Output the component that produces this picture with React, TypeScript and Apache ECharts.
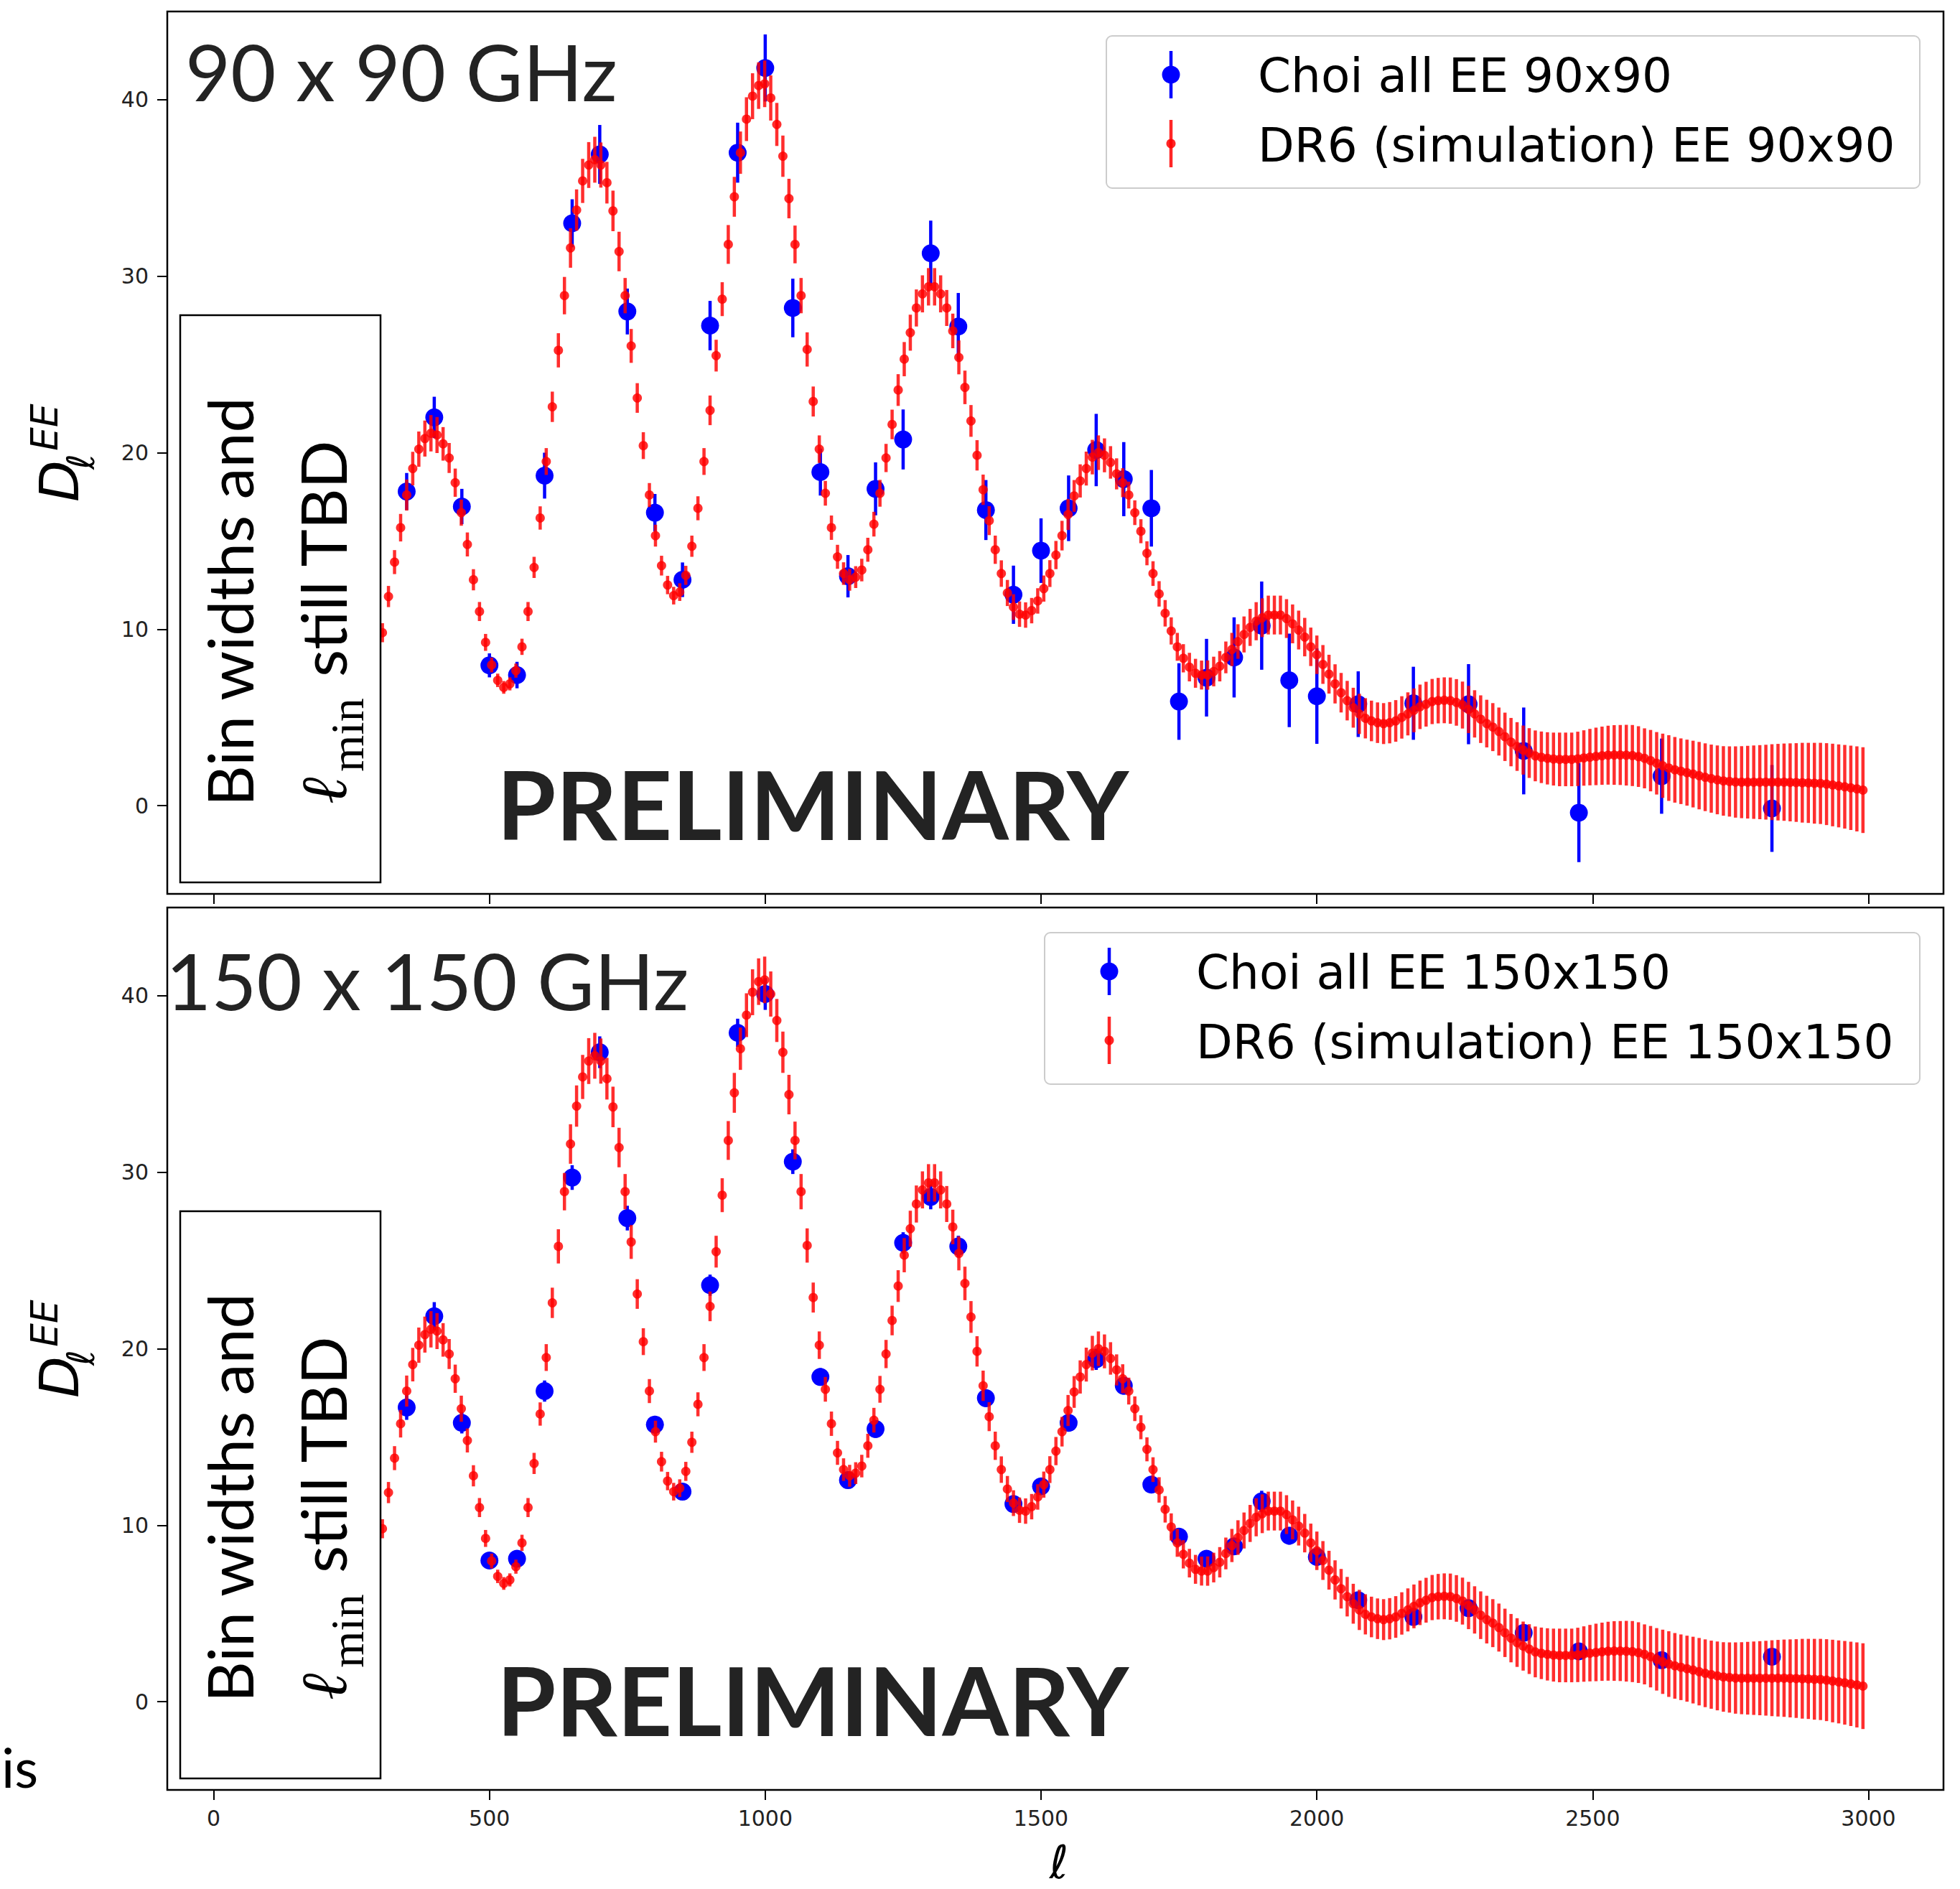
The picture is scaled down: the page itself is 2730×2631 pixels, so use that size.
import React, { useEffect, useRef } from "react";
import * as echarts from "echarts";

const W = 2730;
const H = 2631;

// ---- simulation (DR6) bins: multipole centres, D_ell^EE, 1-sigma ----
const RED_L = [
  306, 317, 328, 339, 350, 361, 372, 383, 394, 405,
  416, 427, 438, 449, 460, 471, 482, 493, 504, 515,
  526, 537, 548, 559, 570, 581, 592, 603, 614, 625,
  636, 647, 658, 669, 680, 691, 702, 713, 724, 735,
  746, 757, 768, 779, 790, 801, 812, 823, 834, 845,
  856, 867, 878, 889, 900, 911, 922, 933, 944, 955,
  966, 977, 988, 999, 1010, 1021, 1032, 1043, 1054, 1065,
  1076, 1087, 1098, 1109, 1120, 1131, 1142, 1153, 1164, 1175,
  1186, 1197, 1208, 1219, 1230, 1241, 1252, 1263, 1274, 1285,
  1296, 1307, 1318, 1329, 1340, 1351, 1362, 1373, 1384, 1395,
  1406, 1417, 1428, 1439, 1450, 1461, 1472, 1483, 1494, 1505,
  1516, 1527, 1538, 1549, 1560, 1571, 1582, 1593, 1604, 1615,
  1626, 1637, 1648, 1659, 1670, 1681, 1692, 1703, 1714, 1725,
  1736, 1747, 1758, 1769, 1780, 1791, 1802, 1813, 1824, 1835,
  1846, 1857, 1868, 1879, 1890, 1901, 1912, 1923, 1934, 1945,
  1956, 1967, 1978, 1989, 2000, 2011, 2022, 2033, 2044, 2055,
  2066, 2077, 2088, 2099, 2110, 2121, 2132, 2143, 2154, 2165,
  2176, 2187, 2198, 2209, 2220, 2231, 2242, 2253, 2264, 2275,
  2286, 2297, 2308, 2319, 2330, 2341, 2352, 2363, 2374, 2385,
  2396, 2407, 2418, 2429, 2440, 2451, 2462, 2473, 2484, 2495,
  2506, 2517, 2528, 2539, 2550, 2561, 2572, 2583, 2594, 2605,
  2616, 2627, 2638, 2649, 2660, 2671, 2682, 2693, 2704, 2715,
  2726, 2737, 2748, 2759, 2770, 2781, 2792, 2803, 2814, 2825,
  2836, 2847, 2858, 2869, 2880, 2891, 2902, 2913, 2924, 2935,
  2946, 2957, 2968, 2979, 2990,
];
const RED_D = [
  9.8, 11.85, 13.8, 15.75, 17.6, 19.1, 20.2, 20.8, 21.1, 21.0,
  20.5, 19.7, 18.3, 16.6, 14.8, 12.8, 11.0, 9.25, 7.97, 7.1,
  6.7, 6.9, 7.65, 9.0, 11.0, 13.5, 16.3, 19.5, 22.6, 25.8,
  28.9, 31.6, 33.75, 35.4, 36.3, 36.6, 36.3, 35.3, 33.7, 31.4,
  28.9, 26.05, 23.1, 20.4, 17.6, 15.3, 13.6, 12.5, 11.9, 12.1,
  13.05, 14.7, 16.85, 19.5, 22.4, 25.5, 28.7, 31.8, 34.5, 37.0,
  38.9, 40.2, 40.8, 40.9, 40.1, 38.6, 36.8, 34.4, 31.8, 28.9,
  25.85, 22.9, 20.2, 17.7, 15.75, 14.1, 13.15, 12.8, 12.95, 13.35,
  14.5, 15.95, 17.7, 19.7, 21.6, 23.55, 25.3, 26.8, 28.2, 29.0,
  29.4, 29.4, 29.0, 28.2, 26.9, 25.4, 23.7, 21.8, 19.85, 17.9,
  16.15, 14.5, 13.15, 12.05, 11.25, 10.85, 10.8, 11.05, 11.6, 12.3,
  13.15, 14.2, 15.3, 16.5, 17.55, 18.4, 19.1, 19.75, 20.0, 19.85,
  19.45, 18.8, 18.3, 17.6, 16.6, 15.55, 14.3, 13.15, 12.0, 10.9,
  9.9, 9.0, 8.35, 7.85, 7.5, 7.4, 7.4, 7.6, 7.9, 8.4,
  8.85, 9.3, 9.7, 10.1, 10.45, 10.65, 10.8, 10.8, 10.8, 10.6,
  10.3, 9.95, 9.55, 9.0, 8.55, 8.0, 7.45, 6.9, 6.4, 5.95,
  5.55, 5.2, 4.95, 4.8, 4.7, 4.65, 4.7, 4.8, 5.0, 5.2,
  5.4, 5.6, 5.75, 5.9, 5.95, 5.97, 5.95, 5.85, 5.7, 5.45,
  5.2, 4.9, 4.65, 4.45, 4.2, 3.9, 3.6, 3.35, 3.15, 2.98,
  2.82, 2.74, 2.68, 2.64, 2.62, 2.62, 2.62, 2.65, 2.7, 2.75,
  2.79, 2.83, 2.86, 2.87, 2.87, 2.86, 2.84, 2.78, 2.68, 2.55,
  2.4, 2.26, 2.13, 2.03, 1.95, 1.87, 1.79, 1.7, 1.61, 1.53,
  1.46, 1.4, 1.37, 1.34, 1.33, 1.33, 1.33, 1.33, 1.33, 1.33,
  1.33, 1.33, 1.32, 1.31, 1.3, 1.29, 1.27, 1.26, 1.22, 1.17,
  1.12, 1.07, 1.01, 0.95, 0.88,
];
const RED_E = [
  0.54, 0.6, 0.68, 0.78, 0.88, 0.95, 1.0, 1.02, 1.03, 1.02,
  0.95, 0.85, 0.8, 0.74, 0.68, 0.6, 0.54, 0.48, 0.42, 0.38,
  0.36, 0.37, 0.4, 0.46, 0.54, 0.6, 0.66, 0.76, 0.86, 0.97,
  1.06, 1.12, 1.17, 1.25, 1.3, 1.3, 1.28, 1.18, 1.15, 1.12,
  1.0, 0.96, 0.84, 0.76, 0.68, 0.62, 0.56, 0.52, 0.5, 0.5,
  0.54, 0.6, 0.68, 0.76, 0.84, 0.9, 0.96, 1.1, 1.13, 1.2,
  1.24, 1.3, 1.32, 1.32, 1.28, 1.22, 1.17, 1.12, 1.07, 1.0,
  0.97, 0.85, 0.78, 0.7, 0.69, 0.68, 0.64, 0.62, 0.62, 0.64,
  0.68, 0.7, 0.76, 0.8, 0.84, 0.9, 0.97, 1.02, 1.05, 1.05,
  1.06, 1.06, 1.05, 1.02, 0.98, 0.96, 0.95, 0.9, 0.86, 0.86,
  0.82, 0.8, 0.75, 0.74, 0.73, 0.72, 0.72, 0.72, 0.72, 0.74,
  0.76, 0.8, 0.84, 0.88, 0.9, 0.94, 0.96, 0.98, 0.98, 0.96,
  0.92, 0.88, 0.82, 0.76, 0.7, 0.68, 0.68, 0.7, 0.72, 0.75,
  0.77, 0.79, 0.8, 0.81, 0.82, 0.82, 0.83, 0.84, 0.86, 0.9,
  0.94, 0.98, 1.02, 1.05, 1.08, 1.1, 1.1, 1.1, 1.1, 1.1,
  1.1, 1.1, 1.09, 1.09, 1.09, 1.1, 1.1, 1.11, 1.12, 1.12,
  1.13, 1.14, 1.14, 1.15, 1.15, 1.16, 1.17, 1.18, 1.2, 1.22,
  1.24, 1.26, 1.27, 1.28, 1.29, 1.3, 1.31, 1.32, 1.33, 1.34,
  1.34, 1.35, 1.35, 1.36, 1.36, 1.37, 1.37, 1.38, 1.39, 1.41,
  1.44, 1.46, 1.48, 1.5, 1.52, 1.52, 1.52, 1.54, 1.57, 1.6,
  1.63, 1.65, 1.67, 1.69, 1.7, 1.72, 1.73, 1.72, 1.7, 1.74,
  1.77, 1.82, 1.86, 1.86, 1.86, 1.87, 1.89, 1.91, 1.92, 1.93,
  1.95, 1.97, 1.99, 2.02, 2.04, 2.06, 2.08, 2.1, 2.12, 2.15,
  2.17, 2.19, 2.21, 2.23, 2.26, 2.27, 2.29, 2.3, 2.32, 2.34,
  2.35, 2.37, 2.39, 2.41, 2.43,
];

// ---- Choi et al. bins ----
const BLUE_L = [
  350, 400, 450, 500, 550, 600, 650, 700, 750, 800,
  850, 900, 950, 1000, 1050, 1100, 1150, 1200, 1250, 1300,
  1350, 1400, 1450, 1500, 1550, 1600, 1650, 1700, 1750, 1800,
  1850, 1900, 1950, 2000, 2075, 2175, 2275, 2375, 2475, 2625, 2825,
];
const BLUE90_D = [
  17.8, 22.0, 16.95, 7.95, 7.4, 18.7, 33.0, 36.9, 28.0, 16.6,
  12.8, 27.2, 37.0, 41.8, 28.2, 18.9, 13.0, 17.95, 20.75, 31.3,
  27.15, 16.75, 11.95, 14.45, 16.85, 20.15, 18.5, 16.85, 5.9, 7.25,
  8.4, 10.2, 7.1, 6.2, 5.75, 5.8, 5.75, 3.1, -0.4, 1.67, -0.16,
];
const BLUE90_E = [
  1.05, 1.17, 1.0, 0.68, 0.75, 1.3, 1.36, 1.67, 1.3, 1.06,
  0.98, 1.4, 1.7, 1.9, 1.66, 1.33, 1.2, 1.5, 1.7, 1.85,
  1.9, 1.7, 1.65, 1.83, 1.86, 2.05, 2.1, 2.17, 2.17, 2.2,
  2.27, 2.5, 2.65, 2.7, 1.86, 2.07, 2.27, 2.46, 2.8, 2.13, 2.46,
];
const BLUE150_D = [
  16.67, 21.84, 15.8, 8.0, 8.1, 17.6, 29.7, 36.8, 27.4, 15.7,
  11.9, 23.6, 37.9, 40.1, 30.6, 18.4, 12.55, 15.45, 26.0, 28.6,
  25.8, 17.2, 11.2, 12.2, 15.8, 19.4, 17.9, 12.3, 9.35, 8.1,
  8.8, 11.35, 9.4, 8.2, 5.75, 4.8, 5.3, 3.9, 2.85, 2.35, 2.55,
];
const BLUE150_E = [
  0.7, 0.8, 0.6, 0.4, 0.4, 0.6, 0.7, 0.9, 0.7, 0.5,
  0.4, 0.6, 0.8, 0.9, 0.7, 0.5, 0.4, 0.5, 0.6, 0.7,
  0.6, 0.5, 0.4, 0.4, 0.5, 0.6, 0.5, 0.4, 0.4, 0.4,
  0.4, 0.6, 0.5, 0.5, 0.4, 0.4, 0.4, 0.4, 0.4, 0.4, 0.4,
];

const X_TICKS = [0, 500, 1000, 1500, 2000, 2500, 3000];
const Y_TICKS = [0, 10, 20, 30, 40];

const PANELS = [
  { title: "90 x 90 GHz", choi: "Choi all EE 90x90", dr6: "DR6 (simulation) EE 90x90" },
  { title: "150 x 150 GHz", choi: "Choi all EE 150x150", dr6: "DR6 (simulation) EE 150x150" },
];

const GRID_LEFT = 233;
const GRID_W = 2474;
const GRID_H = 1229;
const GRID_TOPS = [16, 1264];
const DY = 1248;

function errSeries(name: string, idx: number, L: number[], D: number[], E: number[], color: string, r: number, opacity: number, z: number) {
  return {
    type: "custom",
    name,
    xAxisIndex: idx,
    yAxisIndex: idx,
    clip: true,
    z,
    encode: { x: 0, y: 1 },
    data: L.map((l, i) => [l, D[i], E[i]]),
    renderItem: (_p: any, api: any) => {
      const l = api.value(0);
      const v = api.value(1);
      const e = api.value(2);
      const c = api.coord([l, v]);
      const top = api.coord([l, v + e]);
      const bot = api.coord([l, v - e]);
      return {
        type: "group",
        children: [
          { type: "line", shape: { x1: c[0], y1: top[1], x2: c[0], y2: bot[1] }, style: { stroke: color, lineWidth: 4.5, opacity } },
          { type: "circle", shape: { cx: c[0], cy: c[1], r }, style: { fill: color, opacity } },
        ],
      };
    },
  };
}

function panelGraphics(i: number): any[] {
  const o = i * DY;
  const p = PANELS[i];
  const g: any[] = [];
  // title
  g.push({
    type: "text", x: i === 0 ? 258 : 231, y: i === 0 ? 98 : 1364, z: 100,
    style: { text: p.title, font: "109px Lato", fill: "#232323", align: "left", verticalAlign: "middle" },
  });
  // PRELIMINARY
  g.push({
    type: "text", x: 692, y: 1118 + o, z: 100,
    style: { text: "PRELIMINARY", font: "bold 133px Lato", fill: "#232323", align: "left", verticalAlign: "middle" },
  });
  // note box
  g.push({
    type: "rect", z: 100, shape: { x: 251, y: 439 + o, width: 279, height: 790 },
    style: { fill: "#ffffff", stroke: "#000000", lineWidth: 2.5 },
  });
  g.push({
    type: "text", x: 319, y: 1123 + o, rotation: Math.PI / 2, z: 101,
    style: { text: "Bin widths and", font: "88px Lato", fill: "#000", align: "left", verticalAlign: "middle" },
  });
  g.push({
    type: "text", x: 450, y: 1120 + o, rotation: Math.PI / 2, z: 101,
    style: { text: "\u2113", font: "italic 90px 'DejaVu Serif'", fill: "#000", align: "left", verticalAlign: "middle" },
  });
  g.push({
    type: "text", x: 483, y: 1075 + o, rotation: Math.PI / 2, z: 101,
    style: { text: "min", font: "66px 'Liberation Serif'", fill: "#000", align: "left", verticalAlign: "middle" },
  });
  g.push({
    type: "text", x: 449, y: 943 + o, rotation: Math.PI / 2, z: 101,
    style: { text: "still TBD", font: "88px Lato", fill: "#000", align: "left", verticalAlign: "middle" },
  });
  // y-axis label D_ell^EE
  g.push({
    type: "text", x: 83, y: 699 + o, rotation: Math.PI / 2, z: 100,
    style: { text: "D", font: "italic 75px 'DejaVu Sans'", fill: "#000", align: "left", verticalAlign: "middle" },
  });
  g.push({
    type: "text", x: 62, y: 628 + o, rotation: Math.PI / 2, z: 100,
    style: { text: "EE", font: "italic 52px 'DejaVu Sans'", fill: "#000", align: "left", verticalAlign: "middle" },
  });
  g.push({
    type: "text", x: 112, y: 654 + o, rotation: Math.PI / 2, z: 100,
    style: { text: "\u2113", font: "italic 53px 'DejaVu Sans'", fill: "#000", align: "left", verticalAlign: "middle" },
  });
  // legend
  const lb = i === 0 ? { x: 1541, y: 50, w: 1133, h: 212, mx: 1631, tx: 1752 } : { x: 1455, y: 1299, w: 1219, h: 211, mx: 1545, tx: 1666 };
  const r1 = lb.y + 54;
  const r2 = lb.y + 150;
  g.push({
    type: "rect", z: 100, shape: { x: lb.x, y: lb.y, width: lb.w, height: lb.h, r: 8 },
    style: { fill: "rgba(255,255,255,0.85)", stroke: "#cccccc", lineWidth: 2 },
  });
  g.push({ type: "line", z: 101, shape: { x1: lb.mx, y1: r1 - 33, x2: lb.mx, y2: r1 + 33 }, style: { stroke: "#0000ff", lineWidth: 4.5 } });
  g.push({ type: "circle", z: 101, shape: { cx: lb.mx, cy: r1, r: 12.5 }, style: { fill: "#0000ff" } });
  g.push({ type: "line", z: 101, shape: { x1: lb.mx, y1: r2 - 33, x2: lb.mx, y2: r2 + 33 }, style: { stroke: "#ff0000", lineWidth: 4.5, opacity: 0.85 } });
  g.push({ type: "circle", z: 101, shape: { cx: lb.mx, cy: r2, r: 6.5 }, style: { fill: "#ff0000", opacity: 0.85 } });
  g.push({
    type: "text", x: lb.tx, y: r1 + 1, z: 101,
    style: { text: p.choi, font: "66px 'DejaVu Sans'", fill: "#000", align: "left", verticalAlign: "middle" },
  });
  g.push({
    type: "text", x: lb.tx, y: r2 + 2, z: 101,
    style: { text: p.dr6, font: "66px 'DejaVu Sans'", fill: "#000", align: "left", verticalAlign: "middle" },
  });
  return g;
}

export default function App() {
  const ref = useRef<HTMLDivElement>(null);
  useEffect(() => {
    if (!ref.current) return;
    const chart = echarts.init(ref.current, undefined, { renderer: "svg", width: W, height: H });
    const grids = GRID_TOPS.map((t) => ({
      left: GRID_LEFT, top: t, width: GRID_W, height: GRID_H,
      show: true, borderColor: "#000", borderWidth: 2.5, backgroundColor: "#fff",
    }));
    const xAxes = [0, 1].map((i) => ({
      type: "value", gridIndex: i, min: -84, max: 3136, position: "bottom",
      axisLine: { show: false, onZero: false }, splitLine: { show: false },
      axisTick: { show: true, customValues: X_TICKS, length: 14, lineStyle: { color: "#000", width: 2 } },
      axisLabel: {
        show: i === 1, customValues: X_TICKS, fontSize: 30, color: "#222", fontFamily: "DejaVu Sans", margin: 24,
        formatter: (v: number) => String(v),
      },
    }));
    const yAxes = [0, 1].map((i) => ({
      type: "value", gridIndex: i, min: -5, max: 45, position: "left",
      axisLine: { show: false, onZero: false }, splitLine: { show: false },
      axisTick: { show: true, customValues: Y_TICKS, length: 14, lineStyle: { color: "#000", width: 2 } },
      axisLabel: {
        show: true, customValues: Y_TICKS, fontSize: 30, color: "#222", fontFamily: "DejaVu Sans", margin: 26,
        formatter: (v: number) => String(v),
      },
    }));
    const series = [
      errSeries("Choi all EE 90x90", 0, BLUE_L, BLUE90_D, BLUE90_E, "#0000ff", 12.5, 1, 3),
      errSeries("DR6 (simulation) EE 90x90", 0, RED_L, RED_D, RED_E, "#ff0000", 6.5, 0.82, 4),
      errSeries("Choi all EE 150x150", 1, BLUE_L, BLUE150_D, BLUE150_E, "#0000ff", 12.5, 1, 3),
      errSeries("DR6 (simulation) EE 150x150", 1, RED_L, RED_D, RED_E, "#ff0000", 6.5, 0.82, 4),
    ];
    const graphic: any[] = [...panelGraphics(0), ...panelGraphics(1)];
    graphic.push({
      type: "text", x: 1475, y: 2594, z: 100,
      style: { text: "\u2113", font: "italic 64px 'DejaVu Sans'", fill: "#000", align: "center", verticalAlign: "middle" },
    });
    graphic.push({
      type: "text", x: 2, y: 2460, z: 100,
      style: { text: "is", font: "76px Lato", fill: "#000", align: "left", verticalAlign: "middle" },
    });
    chart.setOption({
      animation: false,
      backgroundColor: "#fff",
      grid: grids,
      xAxis: xAxes,
      yAxis: yAxes,
      series,
      graphic,
    });
    return () => chart.dispose();
  }, []);
  return <div ref={ref} style={{ position: "absolute", left: 0, top: 0, width: W, height: H }} />;
}
